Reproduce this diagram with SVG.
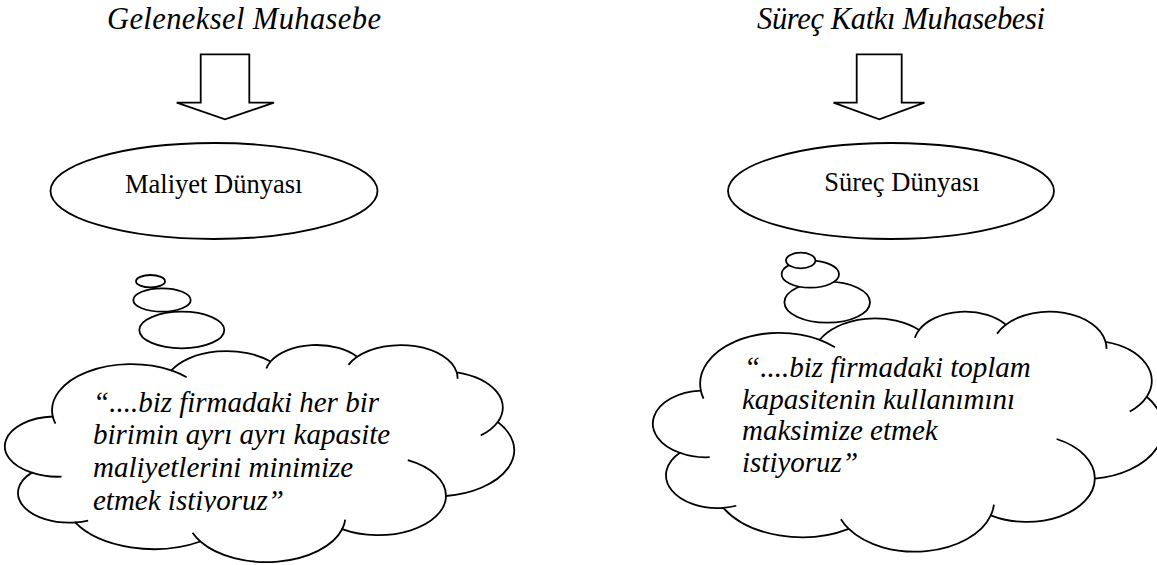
<svg xmlns="http://www.w3.org/2000/svg" xmlns:xlink="http://www.w3.org/1999/xlink" width="1157" height="565" viewBox="0 0 1157 565">
  <style>
    .ln { fill: #fff; stroke: #000; stroke-width: 1.8; }
    .ns { vector-effect: non-scaling-stroke; }
    .inner { fill: none; stroke: #000; stroke-width: 1.8; vector-effect: non-scaling-stroke; }
    text { font-family: 'Liberation Serif', Tinos, 'Times New Roman', Times, 'DejaVu Serif', serif; fill: #000; }
    .title { font-style: italic; font-size: 30.5px; }
    .lbl { font-size: 26.5px; }
    .quote { font-style: italic; font-size: 29px; }
  </style>
  <defs>
    <!-- cloud outline in a 43200 x 43200 unit box, with the inner puff arcs -->
    <g id="cloud">
      <path class="ln ns" d="M3900,14370
        A6753,9190 0 0 1 14005.1,5202
        A5333,7267 0 0 1 22456,3432
        A4365,5945 0 0 1 29832.9,2480.7
        A4857,6595 0 0 1 38318.1,5575.8
        A5333,7273 0 0 1 41818.4,15459.4
        A6775,9220 0 0 1 37404.4,30202.7
        A5785,7867 0 0 1 28556,36813
        A6752,9215 0 0 1 16480.5,39264
        A7720,10543 0 0 1 5805.1,35470
        A4360,5918 0 0 1 2113.7,25548.2
        A4345,5945 0 0 1 3900,14370 Z"/>
      <path class="inner" d="M4646.8,26345.4 A4345,5945 0 0 1 2113.7,25548.2
        M6913.4,35088.6 A4360,5918 0 0 1 5805.1,35470
        M16480.5,39264 A6752,9215 0 0 1 15812.7,37523.9
        M28822.6,34903.8 A6752,9215 0 0 1 28556,36813
        M34152.9,23067 A5785,7867 0 0 1 37404.4,30202.7
        M41818.4,15459.4 A5333,7273 0 0 1 40370.6,18135.1
        M38318.1,5575.8 A4857,6595 0 0 1 38394.5,6839.5
        M29091.3,4092.3 A4857,6595 0 0 1 29832.9,2480.7
        M22096.7,4821.8 A4365,5945 0 0 1 22456,3432
        M14005.1,5202 A6753,9190 0 0 1 15305,6550.4
        M4126.9,15788.6 A6753,9190 0 0 1 3900,14370"/>
    </g>
    <clipPath id="leftQuoteClip">
      <rect x="60" y="370" width="400" height="142"/>
    </clipPath>
  </defs>

  <!-- headings -->
  <g id="title-left">
    <text class="title" x="107" y="29.3" textLength="274">Geleneksel Muhasebe</text>
  </g>
  <g id="title-right">
    <text class="title" x="757" y="28.8" textLength="288">Süreç Katkı Muhasebesi</text>
  </g>

  <!-- block arrows leading down to each world -->
  <g id="connectors">
    <path class="ln" d="M200.7,54.3 H249.3 V102.7 H274 L225,119.3 L176.7,102.7 H200.7 Z"/>
    <path class="ln" d="M856.7,54.3 H901.7 V102.7 H924.5 L879.3,119.3 L833.5,102.7 H856.7 Z"/>
  </g>

  <g id="world-cost">
    <ellipse class="ln" cx="214" cy="191" rx="163.5" ry="48"/>
    <text class="lbl" x="125" y="192.7">Maliyet Dünyası</text>
  </g>
  <g id="world-process">
    <ellipse class="ln" cx="891" cy="191" rx="163" ry="48"/>
    <text class="lbl" x="824.3" y="191">Süreç Dünyası</text>
  </g>

  <!-- thought clouds -->
  <g id="cloud-cost">
    <use xlink:href="#cloud" href="#cloud" transform="translate(7,344.3) scale(0.011736,0.005023)"/>
    <g clip-path="url(#leftQuoteClip)">
      <text class="quote" x="93" y="411.7">“....biz firmadaki her bir</text>
      <text class="quote" x="93" y="444.3">birimin ayrı ayrı kapasite</text>
      <text class="quote" x="93" y="476.9">maliyetlerini minimize</text>
      <text class="quote" x="93" y="509.5">etmek istiyoruz”</text>
    </g>
  </g>
  <g id="cloud-process">
    <use xlink:href="#cloud" href="#cloud" transform="translate(655,310.9) scale(0.011759,0.005553)"/>
    <text class="quote" x="744" y="376.7">“....biz firmadaki toplam</text>
    <text class="quote" x="742" y="408.5">kapasitenin kullanımını</text>
    <text class="quote" x="742" y="440.2">maksimize etmek</text>
    <text class="quote" x="742" y="472">istiyoruz”</text>
  </g>

  <!-- trailing thought bubbles, largest first -->
  <g id="bubbles-cost">
    <ellipse class="ln" cx="181.8" cy="330" rx="42.5" ry="18.3"/>
    <ellipse class="ln" cx="162" cy="300" rx="28.7" ry="11.7"/>
    <ellipse class="ln" cx="150.5" cy="281.2" rx="14.5" ry="6.2"/>
  </g>
  <g id="bubbles-process">
    <ellipse class="ln" cx="827.2" cy="302.2" rx="42.8" ry="20.5"/>
    <ellipse class="ln" cx="810.3" cy="274.2" rx="28.7" ry="13.5"/>
    <ellipse class="ln" cx="800.7" cy="260.5" rx="14.7" ry="7.8"/>
  </g>
</svg>
